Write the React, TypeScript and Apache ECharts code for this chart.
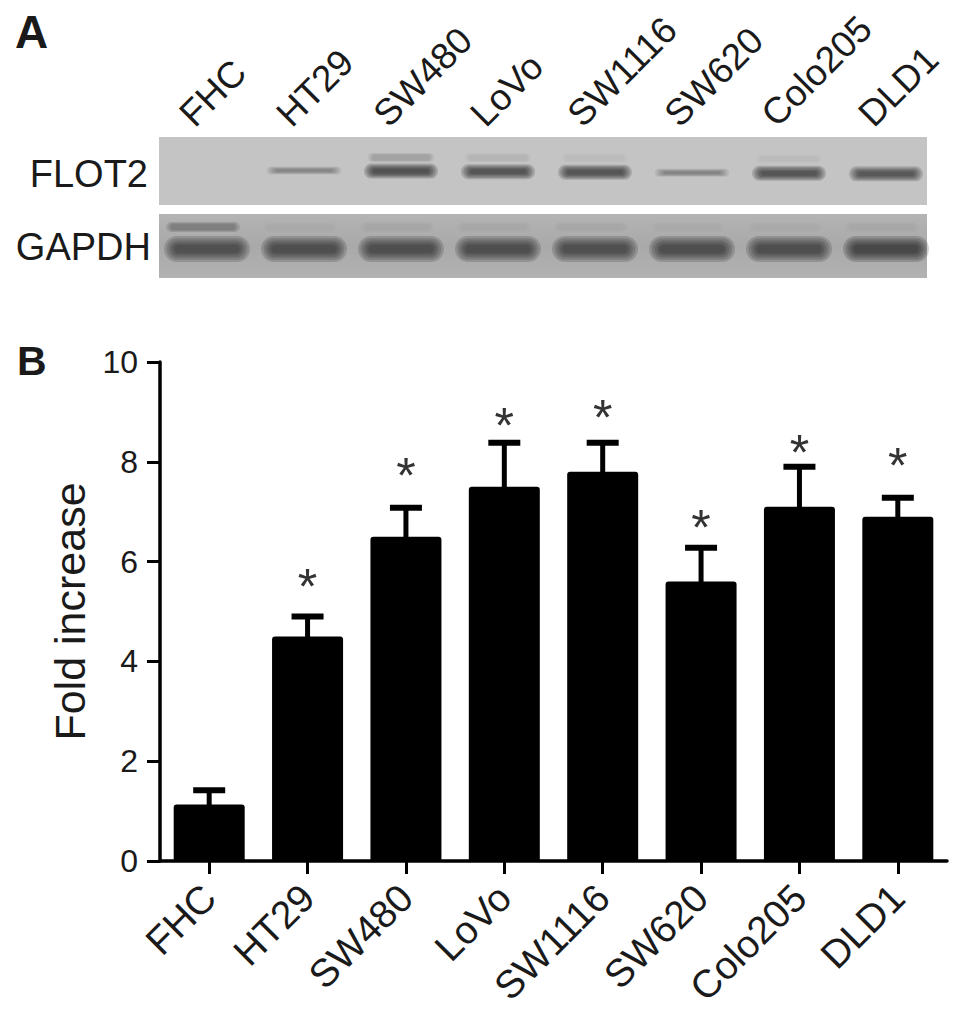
import React, { useEffect, useRef } from "react";
import * as echarts from "echarts";

// ---------- data ----------
const categories = ["FHC", "HT29", "SW480", "LoVo", "SW1116", "SW620", "Colo205", "DLD1"];
const foldMeans = [1.13, 4.5, 6.5, 7.5, 7.8, 5.6, 7.1, 6.9];
const foldSem = [0.29, 0.4, 0.58, 0.88, 0.58, 0.68, 0.8, 0.38];
const starLevels: (number | null)[] = [null, 5.72, 7.93, 8.93, 9.1, 6.9, 8.39, 8.14];
const yTicks = [0, 2, 4, 6, 8, 10];
const blotProteins = ["FLOT2", "GAPDH"];
const flot2Band = [0, 0.38, 0.92, 0.88, 0.88, 0.42, 0.88, 0.8];
const flot2UpperBand = [0, 0, 0.3, 0.12, 0.06, 0, 0.06, 0];
const gapdhBand = [0.8, 0.82, 0.82, 0.82, 0.84, 0.86, 0.86, 0.92];
const gapdhUpperBand = [0.55, 0.04, 0.08, 0.06, 0.05, 0.03, 0.03, 0.06];
const panelLabels = ["A", "B"];

// ---------- layout ----------
const W = 969;
const H = 1029;
const FONT = "'Liberation Sans', Arial, Helvetica, sans-serif";
const TEXT = "#1a1a1a";
const BLOT_LEFT = 159;
const BLOT_RIGHT = 927;
const FLOT_TOP = 137;
const FLOT_BOTTOM = 205;
const GAP_TOP = 214;
const GAP_BOTTOM = 278;
const LANE0 = 207;
const LANE_STEP = 97;

function band(cx: number, cy: number, w: number, h: number, intensity: number, layers = 5) {
  const out: any[] = [];
  if (intensity <= 0) return out;
  const a = Math.min(0.95, intensity * 0.22);
  for (let k = 0; k < layers; k++) {
    const bw = w * (1 - k * 0.06);
    const bh = h * (1 - k * 0.17);
    out.push({
      type: "rect",
      silent: true,
      shape: { x: cx - bw / 2, y: cy - bh / 2, width: bw, height: bh, r: bh / 2 },
      style: { fill: `rgba(30,30,30,${a.toFixed(3)})` },
    });
  }
  return out;
}

function buildBlot() {
  const els: any[] = [];
  els.push({
    type: "rect",
    silent: true,
    shape: { x: BLOT_LEFT, y: FLOT_TOP, width: BLOT_RIGHT - BLOT_LEFT, height: FLOT_BOTTOM - FLOT_TOP },
    style: { fill: "#c4c4c4" },
  });
  els.push({
    type: "rect",
    silent: true,
    shape: { x: BLOT_LEFT, y: GAP_TOP, width: BLOT_RIGHT - BLOT_LEFT, height: GAP_BOTTOM - GAP_TOP },
    style: {
      fill: {
        type: "linear",
        x: 0,
        y: 0,
        x2: 0,
        y2: 1,
        colorStops: [
          { offset: 0, color: "#b4b4b4" },
          { offset: 0.5, color: "#a9a9a9" },
          { offset: 1, color: "#b2b2b2" },
        ],
      },
    },
  });
  categories.forEach((_, i) => {
    const cx = LANE0 + i * LANE_STEP;
    const tilt = i * 0.55;
    const fh = flot2Band[i] > 0.6 ? 15 : 8;
    els.push(...band(cx, 170 + tilt, 74, fh, flot2Band[i]));
    els.push(...band(cx, 157 + tilt * 0.5, 66, 9, flot2UpperBand[i], 3));
    els.push(...band(cx, 249, 86, 26, gapdhBand[i]));
    els.push(...band(cx - 4, 227, 74, 10, gapdhUpperBand[i], 3));
  });
  const labelY = [174, 247];
  const labelX = [148, 151];
  blotProteins.forEach((p, k) => {
    els.push({
      type: "text",
      silent: true,
      x: labelX[k],
      y: labelY[k],
      style: {
        text: p,
        fontSize: 38,
        fontFamily: FONT,
        fill: TEXT,
        align: "right",
        textAlign: "right",
        verticalAlign: "middle",
        textVerticalAlign: "middle",
      },
    });
  });
  categories.forEach((c, i) => {
    const cx = LANE0 + i * LANE_STEP;
    els.push({
      type: "text",
      silent: true,
      x: cx - 21,
      y: 120,
      rotation: Math.PI / 4,
      style: {
        text: c,
        fontSize: 37,
        fontFamily: FONT,
        fill: TEXT,
        align: "left",
        textAlign: "left",
        verticalAlign: "middle",
        textVerticalAlign: "middle",
      },
    });
  });
  const letterPos = [
    [15, 32, 46],
    [17, 361, 41],
  ];
  panelLabels.forEach((l, k) => {
    els.push({
      type: "text",
      silent: true,
      x: letterPos[k][0],
      y: letterPos[k][1],
      style: {
        text: l,
        fontSize: letterPos[k][2],
        fontWeight: "bold",
        fontFamily: FONT,
        fill: TEXT,
        align: "left",
        textAlign: "left",
        verticalAlign: "middle",
        textVerticalAlign: "middle",
      },
    });
  });
  return els;
}

export default function App() {
  const ref = useRef<HTMLDivElement>(null);

  useEffect(() => {
    if (!ref.current) return;
    const chart = echarts.init(ref.current, undefined, { renderer: "svg", width: W, height: H });

    const errData = categories.map((_, i) => [i, foldMeans[i], foldMeans[i] + foldSem[i]]);
    const starData = categories
      .map((_, i) => (starLevels[i] == null ? null : [i, starLevels[i] as number]))
      .filter((d) => d !== null);

    const option: any = {
      animation: false,
      backgroundColor: "#ffffff",
      textStyle: { fontFamily: FONT },
      grid: { left: 160, right: 22, top: 362, bottom: 168, containLabel: false },
      xAxis: {
        type: "category",
        data: categories,
        boundaryGap: true,
        axisLine: { show: true, lineStyle: { color: "#000", width: 3.5 } },
        axisTick: { show: true, alignWithLabel: true, length: 13, lineStyle: { color: "#000", width: 3 } },
        axisLabel: {
          interval: 0,
          rotate: 45,
          margin: 30,
          fontSize: 39,
          color: TEXT,
          fontFamily: FONT,
        },
        splitLine: { show: false },
      },
      yAxis: {
        type: "value",
        min: yTicks[0],
        max: yTicks[yTicks.length - 1],
        interval: yTicks[1] - yTicks[0],
        name: "Fold increase",
        nameLocation: "middle",
        nameGap: 64,
        nameTextStyle: { fontSize: 43, color: TEXT, fontFamily: FONT },
        axisLine: { show: true, lineStyle: { color: "#000", width: 3.5 } },
        axisTick: { show: true, length: 13, lineStyle: { color: "#000", width: 3 } },
        axisLabel: { fontSize: 32, margin: 22, color: TEXT, fontFamily: FONT },
        splitLine: { show: false },
      },
      series: [
        {
          type: "bar",
          data: foldMeans,
          barWidth: 71,
          itemStyle: { color: "#000", borderRadius: [3, 3, 0, 0] },
          z: 2,
        },
        {
          type: "custom",
          data: errData,
          z: 3,
          renderItem: (params: any, api: any) => {
            const i = api.value(0);
            const top = api.coord([i, api.value(1)]);
            const hi = api.coord([i, api.value(2)]);
            const half = 16;
            return {
              type: "group",
              children: [
                {
                  type: "line",
                  shape: { x1: top[0], y1: top[1] + 4, x2: hi[0], y2: hi[1] },
                  style: { stroke: "#000", lineWidth: 5 },
                },
                {
                  type: "line",
                  shape: { x1: hi[0] - half, y1: hi[1], x2: hi[0] + half, y2: hi[1] },
                  style: { stroke: "#000", lineWidth: 6 },
                },
              ],
            };
          },
        },
        {
          type: "custom",
          data: starData,
          z: 4,
          renderItem: (params: any, api: any) => {
            const p = api.coord([api.value(0), api.value(1)]);
            return {
              type: "text",
              x: p[0],
              y: p[1] + 11,
              style: {
                text: "*",
                fontSize: 50,
                fontFamily: FONT,
                fill: "#333",
                align: "center",
                textAlign: "center",
                verticalAlign: "middle",
                textVerticalAlign: "middle",
              },
            };
          },
        },
      ],
      graphic: { elements: buildBlot() },
    };

    chart.setOption(option);
    return () => chart.dispose();
  }, []);

  return (
    <div
      ref={ref}
      style={{ position: "absolute", left: 0, top: 0, width: W, height: H, background: "#fff" }}
    />
  );
}
